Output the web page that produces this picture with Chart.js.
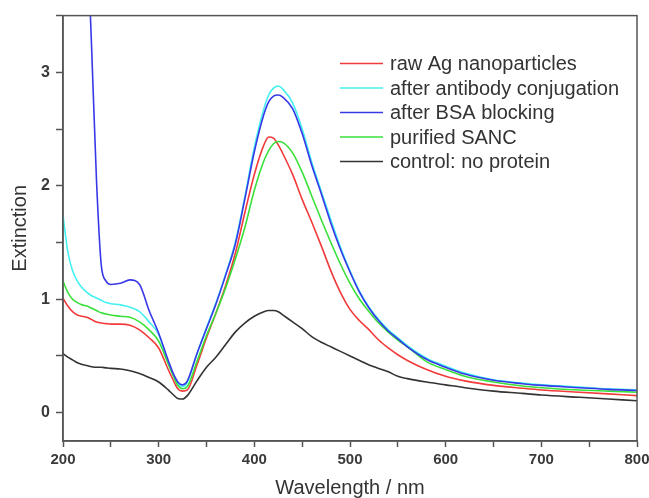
<!DOCTYPE html>
<html>
<head>
<meta charset="utf-8">
<script src="https://cdn.jsdelivr.net/npm/chart.js@4.4.0/dist/chart.umd.min.js"></script>
<style>
  html, body { margin: 0; padding: 0; background: #fff; }
  #wrap { width: 649px; height: 498px; }
</style>
</head>
<body>
<div id="wrap"><canvas id="chart" width="649" height="498"></canvas></div>
<script>
// wavelength grid (nm)
var wavelengths = [200, 205, 210, 215, 220, 225, 230, 235, 240, 245, 250, 260, 270, 280, 290, 300, 310, 315, 320, 325,
    330, 340, 350, 360, 370, 380, 390, 400, 410, 415, 420, 425, 430, 440, 450, 460, 470, 480, 490, 500,
    510, 520, 530, 540, 550, 560, 580, 600, 620, 650, 680, 700, 740, 770, 800];

var rawAg = [1.01, 0.94, 0.89, 0.86, 0.85, 0.84, 0.82, 0.80, 0.79, 0.785, 0.78, 0.78, 0.77, 0.73, 0.66, 0.57, 0.38, 0.29, 0.21, 0.19,
    0.20, 0.42, 0.66, 0.88, 1.12, 1.40, 1.76, 2.10, 2.36, 2.43, 2.42, 2.36, 2.28, 2.10, 1.88, 1.68, 1.47, 1.25, 1.06, 0.91,
    0.81, 0.73, 0.64, 0.57, 0.51, 0.46, 0.38, 0.32, 0.28, 0.24, 0.215, 0.20, 0.18, 0.165, 0.15];

var antibody = [1.74, 1.42, 1.25, 1.16, 1.10, 1.06, 1.03, 1.01, 0.99, 0.97, 0.96, 0.95, 0.93, 0.89, 0.80, 0.69, 0.44, 0.34, 0.26, 0.23,
    0.27, 0.52, 0.75, 0.97, 1.22, 1.50, 1.90, 2.34, 2.68, 2.80, 2.86, 2.88, 2.85, 2.73, 2.50, 2.21, 1.95, 1.70, 1.46, 1.25,
    1.07, 0.93, 0.82, 0.73, 0.66, 0.59, 0.48, 0.41, 0.35, 0.29, 0.26, 0.245, 0.225, 0.21, 0.20];

var bsa = [null, null, null, null, null, 4.3, 3.2, 2.05, 1.30, 1.16, 1.13, 1.14, 1.17, 1.13, 0.90, 0.70, 0.46, 0.35, 0.27, 0.245,
    0.28, 0.52, 0.74, 0.96, 1.21, 1.48, 1.88, 2.30, 2.63, 2.74, 2.79, 2.80, 2.78, 2.68, 2.46, 2.18, 1.93, 1.67, 1.44, 1.24,
    1.06, 0.92, 0.81, 0.72, 0.65, 0.58, 0.47, 0.40, 0.34, 0.285, 0.255, 0.24, 0.22, 0.205, 0.195];

var sanc = [1.16, 1.06, 1.00, 0.97, 0.95, 0.94, 0.92, 0.90, 0.88, 0.87, 0.86, 0.85, 0.84, 0.80, 0.73, 0.63, 0.43, 0.33, 0.24, 0.21,
    0.23, 0.45, 0.68, 0.88, 1.10, 1.35, 1.63, 1.96, 2.22, 2.31, 2.37, 2.39, 2.38, 2.29, 2.12, 1.91, 1.70, 1.50, 1.31, 1.14,
    1.00, 0.89, 0.79, 0.71, 0.64, 0.58, 0.45, 0.38, 0.32, 0.27, 0.235, 0.22, 0.20, 0.19, 0.18];

var control = [0.52, 0.49, 0.465, 0.44, 0.425, 0.415, 0.405, 0.40, 0.40, 0.395, 0.39, 0.385, 0.37, 0.345, 0.31, 0.27, 0.20, 0.16, 0.125, 0.12,
    0.15, 0.28, 0.40, 0.49, 0.60, 0.71, 0.79, 0.85, 0.89, 0.90, 0.90, 0.89, 0.86, 0.80, 0.74, 0.67, 0.62, 0.58, 0.54, 0.50,
    0.46, 0.42, 0.39, 0.36, 0.32, 0.30, 0.27, 0.245, 0.22, 0.19, 0.17, 0.155, 0.135, 0.12, 0.105];

var seriesLabels = ['raw Ag nanoparticles', 'after antibody conjugation', 'after BSA blocking', 'purified SANC', 'control: no protein'];
var seriesValues = [rawAg, antibody, bsa, sanc, control];
var seriesColors = ['#f23a3a', '#44f0f0', '#3838e8', '#3ae03a', '#333333'];
var drawOrder = [2, 3, 0, 1, 1];

function toPoints(arr) {
    return wavelengths.map(function (w, i) { return { x: w, y: arr[i] }; });
}

var datasets = seriesLabels.map(function (lab, i) {
    return {
        label: lab,
        data: toPoints(seriesValues[i]),
        borderColor: seriesColors[i],
        borderWidth: 1.6,
        pointRadius: 0,
        cubicInterpolationMode: 'monotone',
        order: drawOrder[i]
    };
});

var axisColor = '#555555';
var fontFam = '"Liberation Sans", Arial, sans-serif';

// box around the plot
var frame = {
    id: 'frame',
    afterDatasetsDraw: function (chart) {
        var a = chart.chartArea, c = chart.ctx;
        c.save();
        c.strokeStyle = axisColor;
        c.lineWidth = 1.5;
        c.strokeRect(a.left, a.top, a.right - a.left, a.bottom - a.top);
        c.restore();
    }
};

// legend drawn inside the plot, top right
var insideLegend = {
    id: 'insideLegend',
    afterDatasetsDraw: function (chart) {
        var c = chart.ctx;
        c.save();
        c.font = '20px ' + fontFam;
        c.textBaseline = 'middle';
        chart.data.datasets.forEach(function (ds, i) {
            var y = 63.5 + i * 24.5;
            c.strokeStyle = ds.borderColor;
            c.lineWidth = 1.6;
            c.beginPath();
            c.moveTo(340, y);
            c.lineTo(383, y);
            c.stroke();
            c.fillStyle = '#333';
            c.fillText(ds.label, 390, y + 1);
        });
        c.restore();
    }
};

var ctx = document.getElementById('chart').getContext('2d');
var chart = new Chart(ctx, {
    type: 'line',
    data: { datasets: datasets },
    options: {
        responsive: false,
        animation: false,
        layout: { padding: { top: 14, right: 12, left: 0, bottom: 0 } },
        plugins: {
            legend: { display: false },
            tooltip: { enabled: false }
        },
        scales: {
            x: {
                type: 'linear',
                min: 200,
                max: 800,
                afterFit: function (s) { s.height = 57; s.paddingRight = 0; s.paddingLeft = 0; },
                border: { display: true, color: axisColor, width: 1.5 },
                grid: { drawOnChartArea: false, drawTicks: true, tickLength: 6, tickColor: axisColor, tickWidth: 1.5 },
                ticks: {
                    stepSize: 50,
                    maxRotation: 0,
                    padding: 4,
                    color: '#3a3a3a',
                    font: { family: fontFam, size: 15, weight: 'bold' },
                    callback: function (v) { return v % 100 === 0 ? v : ''; }
                },
                title: {
                    display: true,
                    text: 'Wavelength / nm',
                    color: '#333',
                    font: { family: fontFam, size: 20, lineHeight: 1 },
                    padding: 0
                }
            },
            y: {
                min: -0.25,
                max: 3.5,
                afterFit: function (s) { s.width = 63; },
                border: { display: true, color: axisColor, width: 1.5 },
                grid: { drawOnChartArea: false, drawTicks: true, tickLength: 7, tickColor: axisColor, tickWidth: 1.5 },
                ticks: {
                    stepSize: 0.5,
                    includeBounds: false,
                    padding: 6,
                    color: '#3a3a3a',
                    font: { family: fontFam, size: 16, weight: 'bold' },
                    callback: function (v) { return Number.isInteger(v) ? v : ''; }
                },
                title: {
                    display: true,
                    text: 'Extinction',
                    color: '#333',
                    font: { family: fontFam, size: 20, lineHeight: 1 },
                    padding: { top: 10, bottom: 0 }
                }
            }
        }
    },
    plugins: [frame, insideLegend]
});
</script>
</body>
</html>
